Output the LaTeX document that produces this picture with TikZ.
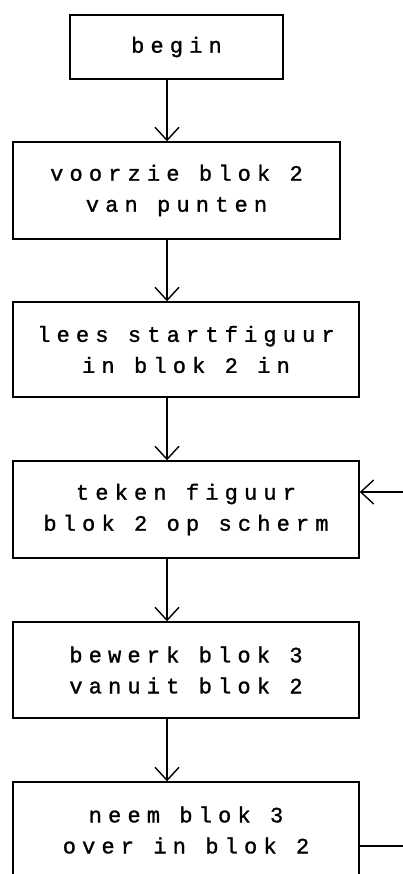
\documentclass[tikz,border=0pt]{standalone}
\usepackage{fontspec}
\newfontfamily\dotfont[LetterSpace=28,FakeBold=1.2]{Liberation Mono}
\usetikzlibrary{arrows.meta}
\begin{document}
\begin{tikzpicture}[x=1pt,y=-1pt,
  box/.style={draw,line width=1.4pt,inner sep=0pt,align=center,
    font=\dotfont\fontsize{22}{31}\selectfont},
  flow/.style={line width=1.4pt,-{Straight Barb[length=13pt,width=24pt,line width=1.4pt]}}]
\useasboundingbox (0,0) rectangle (403,874);
\clip (0,0) rectangle (403,874);
\node[box,minimum width=213pt,minimum height=64pt] (b1) at (176.5,47) {begin};
\node[box,minimum width=327pt,minimum height=97pt] (b2) at (176.5,190.5) {voorzie blok 2\\van punten};
\node[box,minimum width=346pt,minimum height=95pt] (b3) at (186,349.5) {lees startfiguur\\in blok 2 in};
\node[box,minimum width=346pt,minimum height=97pt] (b4) at (186,509.5) {teken figuur\\blok 2 op scherm};
\node[box,minimum width=346pt,minimum height=96pt] (b5) at (186,670) {bewerk blok 3\\vanuit blok 2};
\node[box,minimum width=346pt,minimum height=96pt] (b6) at (186,830) {neem blok 3\\over in blok 2};
\coordinate (ax) at (167,0);
\draw[flow] (b1.south -| ax) -- (b2.north -| ax);
\draw[flow] (b2.south -| ax) -- (b3.north -| ax);
\draw[flow] (b3.south -| ax) -- (b4.north -| ax);
\draw[flow] (b4.south -| ax) -- (b5.north -| ax);
\draw[flow] (b5.south -| ax) -- (b6.north -| ax);
\draw[flow] ([yshift=-16pt]b6.east) -- ++(70,0) |- ([yshift=17.5pt]b4.east);
\end{tikzpicture}
\end{document}
